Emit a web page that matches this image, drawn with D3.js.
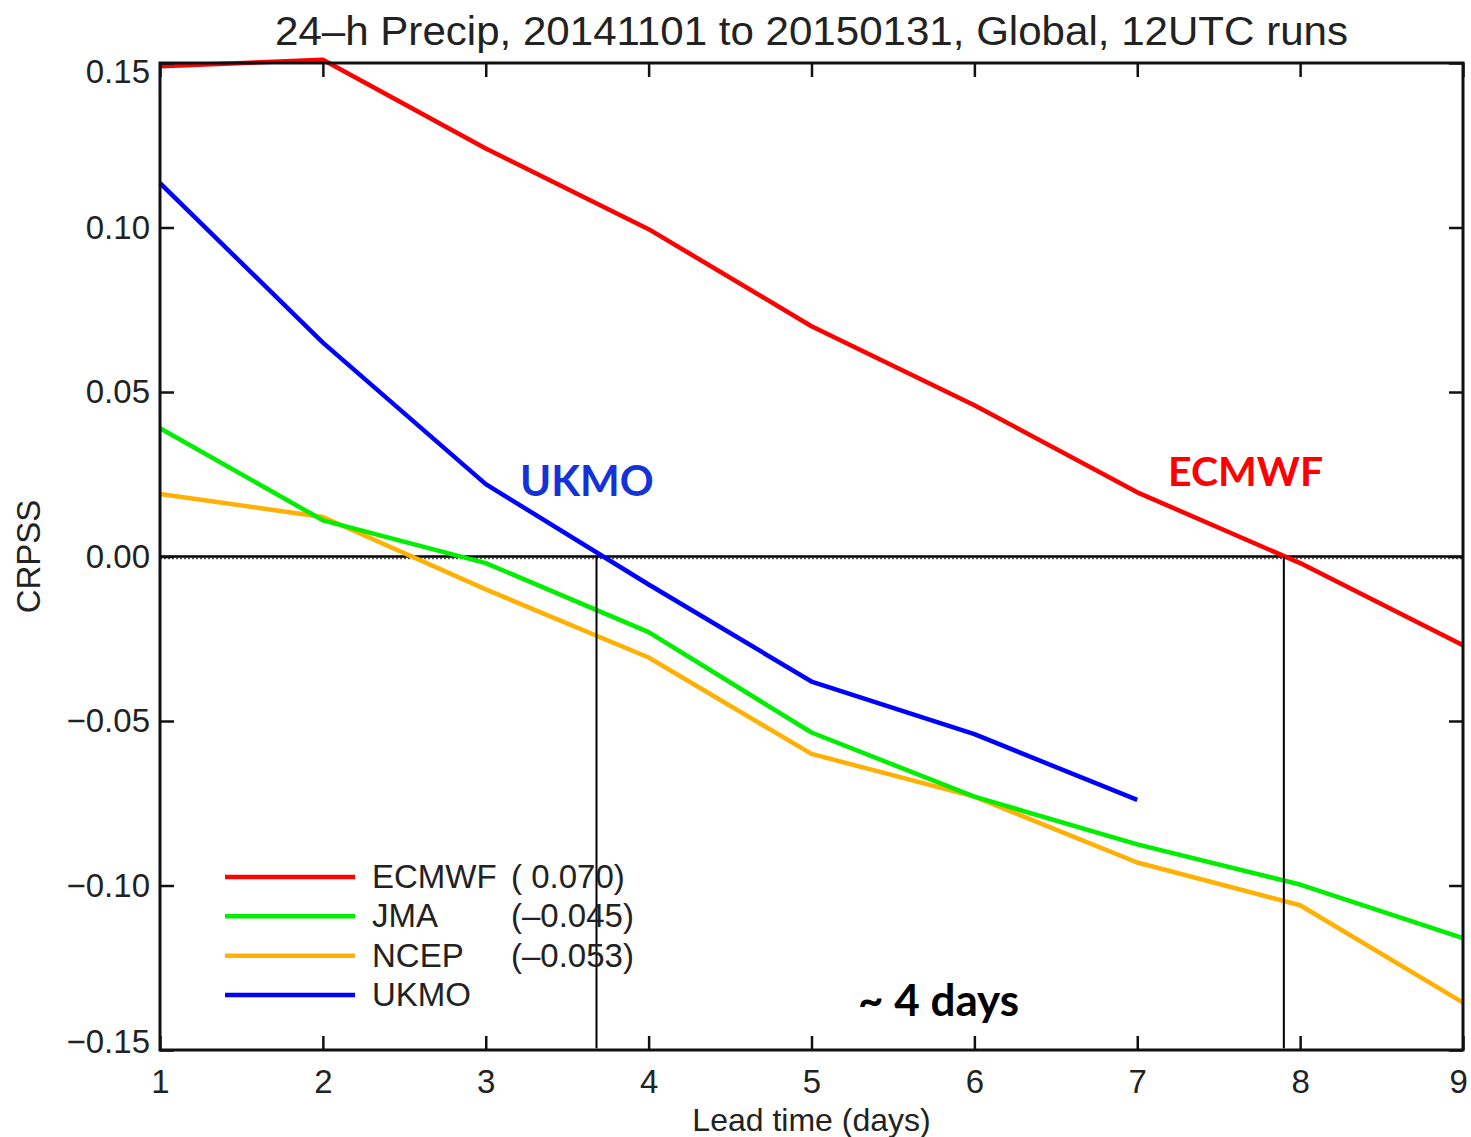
<!DOCTYPE html>
<html><head><meta charset="utf-8">
<script src="https://cdn.jsdelivr.net/npm/d3@7"></script>
<style>
body{margin:0;background:#fff;}
svg{display:block;}
text{font-family:"Liberation Sans",Arial,Helvetica,sans-serif;fill:#222;}
</style></head>
<body>
<svg id="chart" width="1471" height="1137"></svg>
<script>
const days = [1,2,3,4,5,6,7,8,9];
const ecmwf = [0.149,0.151,0.124,0.0995,0.070,0.046,0.0195,-0.002,-0.027];
const jma   = [0.039,0.011,-0.002,-0.023,-0.0535,-0.073,-0.0875,-0.0997,-0.116];
const ncep  = [0.019,0.012,-0.010,-0.0307,-0.060,-0.073,-0.093,-0.106,-0.1356];
const ukmo  = [0.1135,0.065,0.022,-0.0085,-0.038,-0.054,-0.074];
const seriesNames = ["ECMWF","JMA","NCEP","UKMO"];
const seriesColors = ["#ff0000","#00ee00","#ffb000","#0000ff"];
const seriesMeans = ["( 0.070)","(–0.045)","(–0.053)",""];
const yTicks = [-0.15,-0.10,-0.05,0.00,0.05,0.10,0.15];
const crossings = [3.68,7.9];
const titleText = "24–h Precip, 20141101 to 20150131, Global, 12UTC runs";

const svg = d3.select("#chart");
const L=160,R=1463,T=63,B=1050;
const x = d3.scaleLinear().domain([1,9]).range([L,R]);
const y = d3.scaleLinear().domain([-0.15,0.15]).range([B,T]);

// title
svg.append("text").attr("x",(L+R)/2).attr("y",45).attr("text-anchor","middle")
  .attr("textLength",1073).attr("lengthAdjust","spacingAndGlyphs")
  .style("font-size","40px").text(titleText);

// zero lines
svg.append("line").attr("x1",L).attr("x2",R).attr("y1",y(0)+2).attr("y2",y(0)+2)
  .attr("stroke","#555").attr("stroke-width",1.5).attr("stroke-dasharray","2,2");
svg.append("line").attr("x1",L).attr("x2",R).attr("y1",y(0)).attr("y2",y(0))
  .attr("stroke","#000").attr("stroke-width",2.5);

// series lines
const line = d3.line().x((d,i)=>x(days[i])).y(d=>y(d));
const allSeries = [ecmwf,jma,ncep,ukmo];
[ncep,jma,ukmo,ecmwf].forEach(s=>{
  const idx = allSeries.indexOf(s);
  svg.append("path").datum(s).attr("d",line).attr("fill","none")
    .attr("stroke",seriesColors[idx]).attr("stroke-width",4.5).attr("stroke-linejoin","round");
});

// vertical crossing lines
crossings.forEach(c=>{
  svg.append("line").attr("x1",x(c)).attr("x2",x(c)).attr("y1",y(0)).attr("y2",y(-0.1495))
    .attr("stroke","#000").attr("stroke-width",2);
});

// axes
const tl = 14;
const gB = svg.append("g").attr("transform",`translate(0,${B})`)
  .call(d3.axisBottom(x).tickValues(days).tickSize(-tl).tickSizeOuter(0).tickPadding(20).tickFormat(d3.format("d")));
const gT = svg.append("g").attr("transform",`translate(0,${T})`)
  .call(d3.axisTop(x).tickValues(days).tickSize(-tl).tickSizeOuter(0).tickFormat(""));
const gL = svg.append("g").attr("transform",`translate(${L},0)`)
  .call(d3.axisLeft(y).tickValues(yTicks).tickSize(-tl).tickSizeOuter(0).tickPadding(10).tickFormat(d3.format(".2f")));
const gR = svg.append("g").attr("transform",`translate(${R},0)`)
  .call(d3.axisRight(y).tickValues(yTicks).tickSize(-tl).tickSizeOuter(0).tickFormat(""));
[gB,gT,gL,gR].forEach(g=>{
  g.select(".domain").remove();
  g.selectAll(".tick line").attr("stroke","#111").attr("stroke-width",2.5);
  g.selectAll(".tick text").style("font-size","33px").attr("fill","#222")
    .style("font-family","'Liberation Sans',Arial,sans-serif");
});
gB.selectAll(".tick text").filter(d=>d===9).attr("dx","-0.15em");
gL.selectAll(".tick text").filter(d=>d===0.15).attr("dy","0.58em");
gL.selectAll(".tick text").filter(d=>d===-0.15).attr("dy","0.08em");

// frame
svg.append("rect").attr("x",L).attr("y",T).attr("width",R-L).attr("height",B-T)
  .attr("fill","none").attr("stroke","#111").attr("stroke-width",3);

// axis labels
svg.append("text").attr("x",(L+R)/2).attr("y",1131).attr("text-anchor","middle")
  .style("font-size","32px").text("Lead time (days)");
svg.append("text").attr("transform",`translate(40,${y(0)}) rotate(-90)`).attr("text-anchor","middle")
  .style("font-size","33px").text("CRPSS");

// legend
const legY = d3.scaleLinear().domain([0,3]).range([877,995]);
seriesNames.forEach((n,i)=>{
  svg.append("line").attr("x1",225).attr("x2",355).attr("y1",legY(i)).attr("y2",legY(i))
    .attr("stroke",seriesColors[i]).attr("stroke-width",4.5);
  svg.append("text").attr("x",372).attr("y",legY(i)+11).style("font-size","33px").text(n);
  svg.append("text").attr("x",511).attr("y",legY(i)+11).style("font-size","33px").text(seriesMeans[i]);
});

// annotations
svg.append("text").attr("x",520).attr("y",496).style("font-family","Lato,'Open Sans',sans-serif")
  .style("font-weight","bold").style("font-size","42px").style("fill","#1433d6").text("UKMO");
svg.append("text").attr("x",1168).attr("y",486).style("font-family","Lato,'Open Sans',sans-serif")
  .style("font-weight","bold").style("font-size","41px").style("fill","#ff0000").text("ECMWF");
svg.append("text").attr("x",858).attr("y",1016).style("font-family","Lato,'Open Sans',sans-serif")
  .style("font-weight","bold").style("font-size","44px").style("fill","#000").text("~ 4 days");
</script>
</body></html>
